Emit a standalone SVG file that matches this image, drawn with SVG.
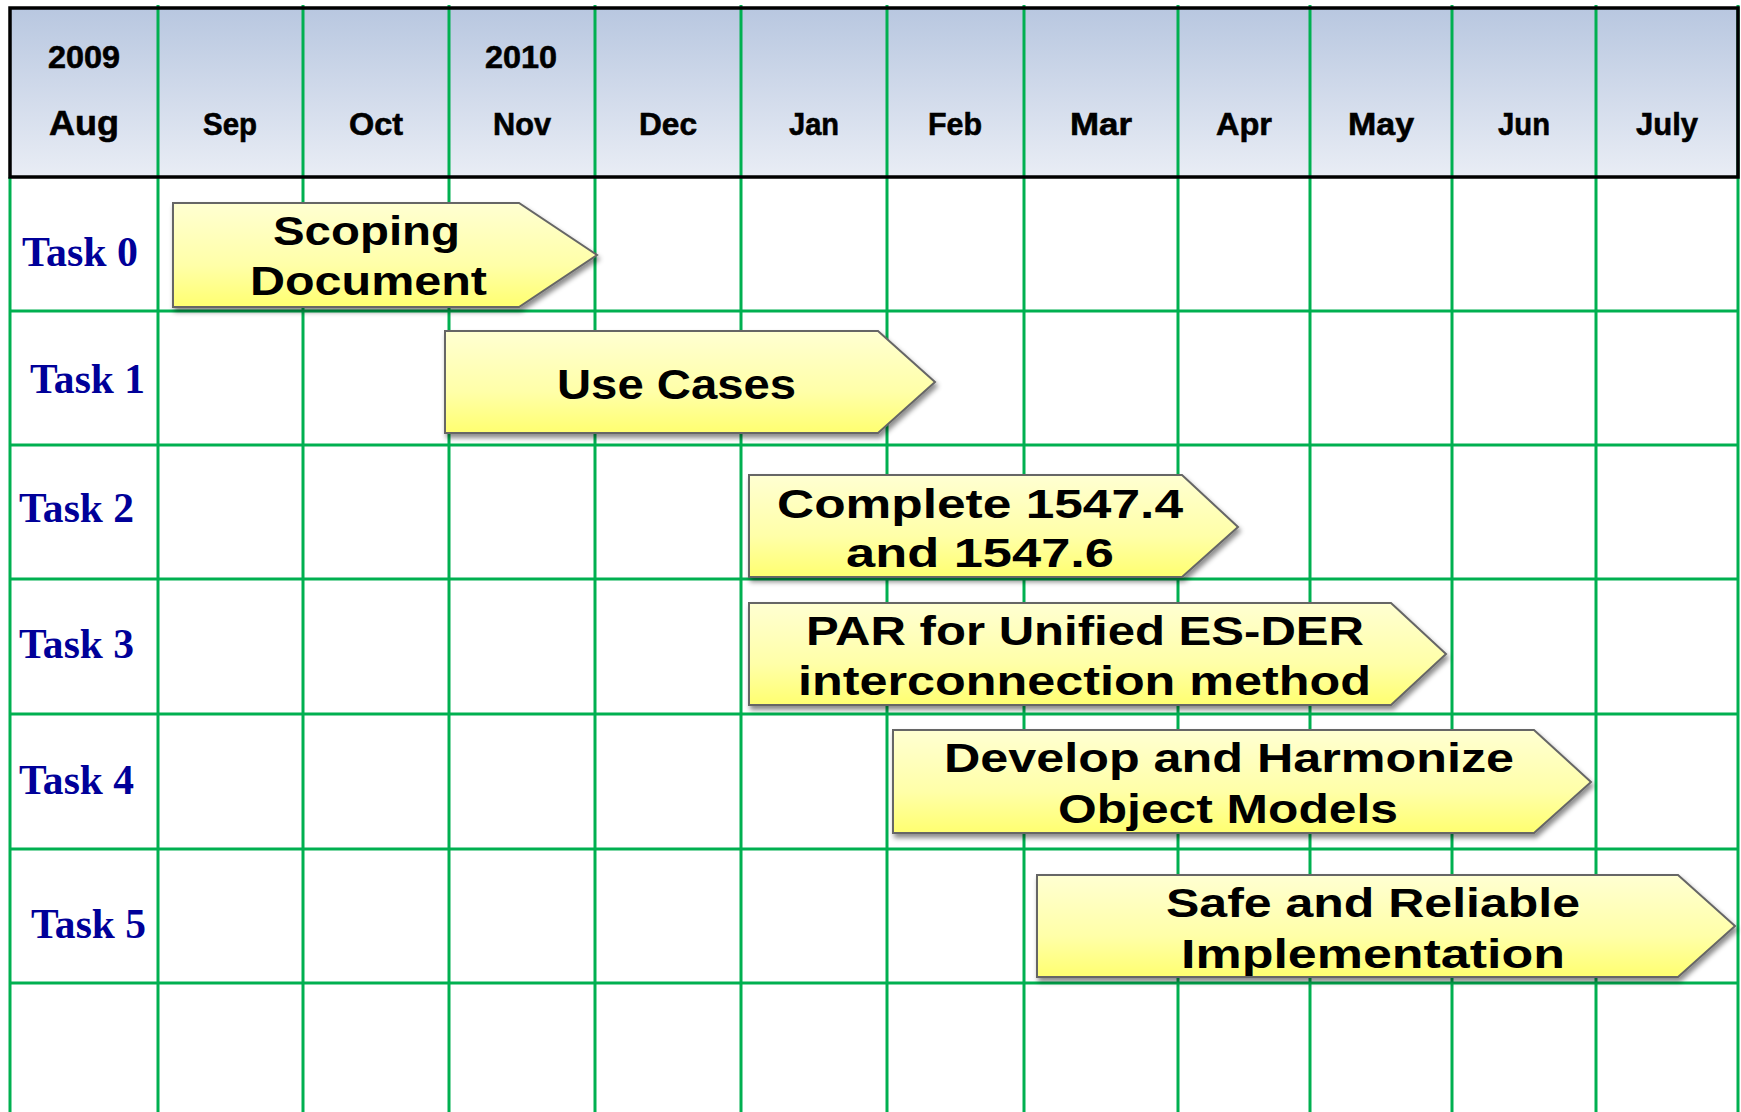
<svg xmlns="http://www.w3.org/2000/svg" width="1741" height="1112" viewBox="0 0 1741 1112">
<defs>
<linearGradient id="hdr" x1="0" y1="0" x2="0" y2="1">
<stop offset="0" stop-color="#b8c7e0"/>
<stop offset="1" stop-color="#e9edf5"/>
</linearGradient>
<linearGradient id="yel" x1="0" y1="0" x2="0" y2="1">
<stop offset="0" stop-color="#ffffd2"/>
<stop offset="0.6" stop-color="#ffffa8"/>
<stop offset="1" stop-color="#ffff70"/>
</linearGradient>
<filter id="sh" x="-5%" y="-10%" width="115%" height="130%">
<feDropShadow dx="2" dy="4" stdDeviation="2.5" flood-color="#000" flood-opacity="0.45"/>
</filter>
</defs>
<style>
.g{stroke:#00b050;stroke-width:3;fill:none}
.hd{font-family:"Liberation Sans",Arial,sans-serif;font-weight:bold;font-size:32px;fill:#000;text-anchor:middle;stroke:#000;stroke-width:0.6}
.task{font-family:"Liberation Serif","Times New Roman",serif;font-weight:bold;font-size:43px;fill:#000099}
.arr{fill:url(#yel);stroke:#666;stroke-width:2;filter:url(#sh)}
.at{font-family:"Liberation Sans",Arial,sans-serif;font-weight:bold;font-size:41px;fill:#000}
</style>
<rect width="1741" height="1112" fill="#fff"/>
<g id="header">
<rect x="10" y="8" width="1728" height="169" fill="url(#hdr)"/>
</g>
<g id="connectors">
<path class="g" d="M10 177V1112M158 5V1112M303 5V1112M449 5V1112M595 5V1112M741 5V1112M887 5V1112M1024 5V1112M1178 5V1112M1310 5V1112M1452 5V1112M1596 5V1112M1738 5V1112"/>
<path class="g" d="M10 311H1738M10 445H1738M10 579H1738M10 714H1738M10 849H1738M10 983H1738"/>
</g>
<g id="header-border">
<rect x="10" y="8" width="1728" height="169" fill="none" stroke="#000" stroke-width="3.5"/>
</g>
<g id="header-labels">
<text class="hd" x="84" y="68" textLength="72" lengthAdjust="spacingAndGlyphs">2009</text>
<text class="hd" x="521" y="68" textLength="72" lengthAdjust="spacingAndGlyphs">2010</text>
<text class="hd" x="84" y="135" style="font-size:35px" textLength="70" lengthAdjust="spacingAndGlyphs">Aug</text>
<text class="hd" x="230" y="135" textLength="54" lengthAdjust="spacingAndGlyphs">Sep</text>
<text class="hd" x="376" y="135" textLength="54" lengthAdjust="spacingAndGlyphs">Oct</text>
<text class="hd" x="522" y="135" textLength="58" lengthAdjust="spacingAndGlyphs">Nov</text>
<text class="hd" x="668" y="135" textLength="58" lengthAdjust="spacingAndGlyphs">Dec</text>
<text class="hd" x="814" y="135" textLength="50" lengthAdjust="spacingAndGlyphs">Jan</text>
<text class="hd" x="955" y="135" textLength="54" lengthAdjust="spacingAndGlyphs">Feb</text>
<text class="hd" x="1101" y="135" textLength="62" lengthAdjust="spacingAndGlyphs">Mar</text>
<text class="hd" x="1244" y="135" textLength="56" lengthAdjust="spacingAndGlyphs">Apr</text>
<text class="hd" x="1381" y="135" textLength="66" lengthAdjust="spacingAndGlyphs">May</text>
<text class="hd" x="1524" y="135" textLength="52" lengthAdjust="spacingAndGlyphs">Jun</text>
<text class="hd" x="1667" y="135" textLength="62" lengthAdjust="spacingAndGlyphs">July</text>
</g>
<g id="task-labels">
<text class="task" x="22" y="266" textLength="116" lengthAdjust="spacingAndGlyphs">Task 0</text>
<text class="task" x="30" y="393" textLength="115" lengthAdjust="spacingAndGlyphs">Task 1</text>
<text class="task" x="19" y="522" textLength="115" lengthAdjust="spacingAndGlyphs">Task 2</text>
<text class="task" x="19" y="658" textLength="115" lengthAdjust="spacingAndGlyphs">Task 3</text>
<text class="task" x="19" y="794" textLength="115" lengthAdjust="spacingAndGlyphs">Task 4</text>
<text class="task" x="31" y="938" textLength="115" lengthAdjust="spacingAndGlyphs">Task 5</text>
</g>
<g id="task0">
<path class="arr" d="M173 203H519L597 255L519 307H173Z"/>
<text class="at" x="273" y="245" textLength="187" lengthAdjust="spacingAndGlyphs">Scoping</text>
<text class="at" x="250" y="295" textLength="237" lengthAdjust="spacingAndGlyphs">Document</text>
</g>
<g id="task1">
<path class="arr" d="M445 331H878L935 382L878 433H445Z"/>
<text class="at" x="557" y="399" textLength="239" lengthAdjust="spacingAndGlyphs" style="font-size:42px">Use Cases</text>
</g>
<g id="task2">
<path class="arr" d="M749 475H1182L1238 527L1182 577H749Z"/>
<text class="at" x="777" y="518" textLength="406" lengthAdjust="spacingAndGlyphs">Complete 1547.4</text>
<text class="at" x="846" y="567" textLength="268" lengthAdjust="spacingAndGlyphs">and 1547.6</text>
</g>
<g id="task3">
<path class="arr" d="M749 603H1391L1446 654L1391 705H749Z"/>
<text class="at" x="806" y="645" textLength="558" lengthAdjust="spacingAndGlyphs">PAR for Unified ES-DER</text>
<text class="at" x="798" y="695" textLength="573" lengthAdjust="spacingAndGlyphs">interconnection method</text>
</g>
<g id="task4">
<path class="arr" d="M893 730H1534L1591 782L1534 833H893Z"/>
<text class="at" x="944" y="772" textLength="570" lengthAdjust="spacingAndGlyphs">Develop and Harmonize</text>
<text class="at" x="1058" y="823" textLength="340" lengthAdjust="spacingAndGlyphs">Object Models</text>
</g>
<g id="task5">
<path class="arr" d="M1037 875H1678L1735 926L1678 977H1037Z"/>
<text class="at" x="1166" y="917" textLength="414" lengthAdjust="spacingAndGlyphs">Safe and Reliable</text>
<text class="at" x="1181" y="968" textLength="384" lengthAdjust="spacingAndGlyphs">Implementation</text>
</g>
</svg>
